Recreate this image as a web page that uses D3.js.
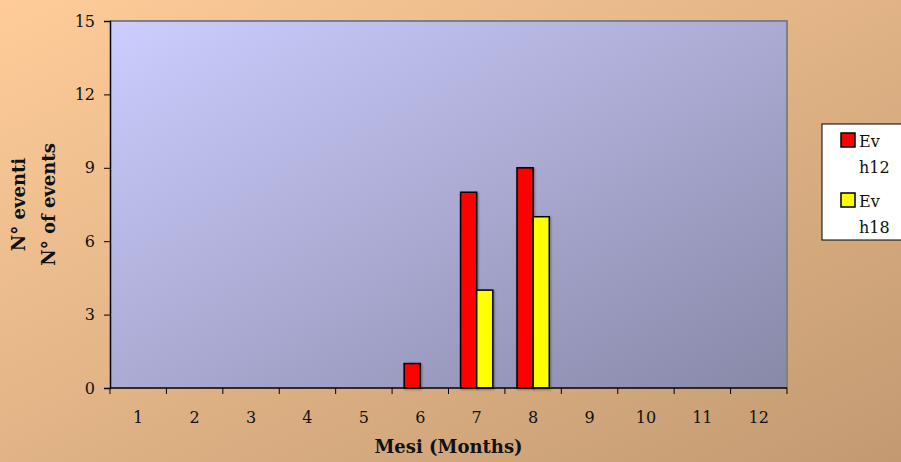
<!DOCTYPE html>
<html>
<head>
<meta charset="utf-8">
<script src="https://cdn.jsdelivr.net/npm/d3@7"></script>
<style>
  html, body { margin: 0; padding: 0; background: #fff; }
  svg { display: block; }
</style>
</head>
<body>
<svg id="chart" width="901" height="462"></svg>
<script>
const months = ["1","2","3","4","5","6","7","8","9","10","11","12"];
const seriesNames = ["Ev h12", "Ev h18"];
const evH12 = [0,0,0,0,0,1,8,9,0,0,0,0];
const evH18 = [0,0,0,0,0,0,4,7,0,0,0,0];
const seriesColors = ["#FF0000", "#FFFF00"];
const yTicks = [0,3,6,9,12,15];
const xTitle = "Mesi (Months)";
const yTitleLines = ["N° eventi", "N° of events"];

const W = 901, H = 462;
const plot = {left: 110, right: 787, top: 21, bottom: 388};
const serif = "'DejaVu Serif', 'Liberation Serif', serif";

const svg = d3.select("#chart");
const defs = svg.append("defs");

const bgGrad = defs.append("linearGradient").attr("id","bgGrad")
  .attr("x1",0).attr("y1",0).attr("x2",1).attr("y2",1);
bgGrad.append("stop").attr("offset","0%").attr("stop-color","#FFCC99");
bgGrad.append("stop").attr("offset","100%").attr("stop-color","#C29A72");

const plotGrad = defs.append("linearGradient").attr("id","plotGrad")
  .attr("x1",0).attr("y1",0).attr("x2",1).attr("y2",1);
plotGrad.append("stop").attr("offset","0%").attr("stop-color","#CDCDFF");
plotGrad.append("stop").attr("offset","100%").attr("stop-color","#8888A8");

svg.append("rect").attr("width",W).attr("height",H).attr("fill","url(#bgGrad)");

const x = d3.scaleBand().domain(months).range([plot.left, plot.right]).paddingInner(0).paddingOuter(0);
const y = d3.scaleLinear().domain([0,15]).range([plot.bottom, plot.top]);

// plot area
svg.append("rect")
  .attr("x", plot.left).attr("y", plot.top)
  .attr("width", plot.right - plot.left).attr("height", plot.bottom - plot.top)
  .attr("fill","url(#plotGrad)");
// gray top & right border
svg.append("path")
  .attr("d", `M${plot.left},${plot.top}H${plot.right}V${plot.bottom}`)
  .attr("fill","none").attr("stroke","#808080").attr("stroke-width",2);

// bars
const barW = x.bandwidth() / 3.5;
const sub = d3.scaleBand().domain([0,1]).range([-barW, barW]);
const seriesData = [evH12, evH18];
seriesData.forEach((vals, si) => {
  const data = months.map((m, i) => ({m, v: vals[i]})).filter(d => d.v > 0);
  svg.append("g").selectAll("rect").data(data).join("rect")
    .attr("x", d => x(d.m) + x.bandwidth()/2 + sub(si))
    .attr("y", d => y(d.v))
    .attr("width", sub.bandwidth())
    .attr("height", d => y(0) - y(d.v))
    .attr("fill", seriesColors[si])
    .attr("stroke", "#000").attr("stroke-width", 1.5)
    .style("filter","drop-shadow(1px 1px 1px rgba(0,0,0,0.35))");
});

// y axis
const yAxis = svg.append("g").attr("transform", `translate(${plot.left},0)`)
  .call(d3.axisLeft(y).tickValues(yTicks).tickSize(6).tickPadding(9));
yAxis.select(".domain").attr("stroke","#000").attr("stroke-width",1.5);
yAxis.selectAll(".tick line").attr("stroke","#000");
yAxis.selectAll("text").attr("font-family", serif).attr("font-size", 16).attr("fill","#111");

// x axis: ticks at category boundaries, labels at centers
const xAxisG = svg.append("g").attr("transform", `translate(0,${plot.bottom})`);
xAxisG.append("line").attr("x1", plot.left).attr("x2", plot.right)
  .attr("stroke","#000").attr("stroke-width",1.5);
const boundaries = months.map(m => x(m)).concat([plot.right]);
xAxisG.selectAll(".bt").data(boundaries).join("line").attr("class","bt")
  .attr("x1", d => d).attr("x2", d => d).attr("y1", 0).attr("y2", 6)
  .attr("stroke","#000");
xAxisG.selectAll(".lbl").data(months).join("text").attr("class","lbl")
  .attr("x", d => x(d) + x.bandwidth()/2).attr("y", 35)
  .attr("text-anchor","middle")
  .attr("font-family", serif).attr("font-size", 16).attr("fill","#111")
  .text(d => d);

// axis titles
svg.append("text").attr("x", (plot.left+plot.right)/2).attr("y", 453)
  .attr("text-anchor","middle").attr("font-family", serif).attr("font-weight","bold")
  .attr("font-size", 18).attr("fill","#111").text(xTitle);

const yMid = (plot.top + plot.bottom)/2;
[25, 55].forEach((bx, i) => {
  svg.append("text")
    .attr("transform", `translate(${bx},${yMid}) rotate(-90)`)
    .attr("text-anchor","middle").attr("font-family", serif).attr("font-weight","bold")
    .attr("font-size", 18).attr("fill","#111").text(yTitleLines[i]);
});

// legend
const leg = svg.append("g");
leg.append("rect").attr("x", 822).attr("y", 124).attr("width", 100).attr("height", 116)
  .attr("fill","#fff").attr("stroke","#000").attr("stroke-width",1);
seriesNames.forEach((name, i) => {
  const oy = 133 + i*60;
  leg.append("rect").attr("x", 841).attr("y", oy).attr("width", 14).attr("height", 14)
    .attr("fill", seriesColors[i]).attr("stroke","#000").attr("stroke-width",1.5);
  const parts = name.split(" ");
  const t = leg.append("text").attr("font-family", serif).attr("font-size", 16).attr("fill","#111");
  parts.forEach((p, j) => {
    t.append("tspan").attr("x", 859).attr("y", oy + 14 + j*26).text(p);
  });
});
</script>
</body>
</html>
